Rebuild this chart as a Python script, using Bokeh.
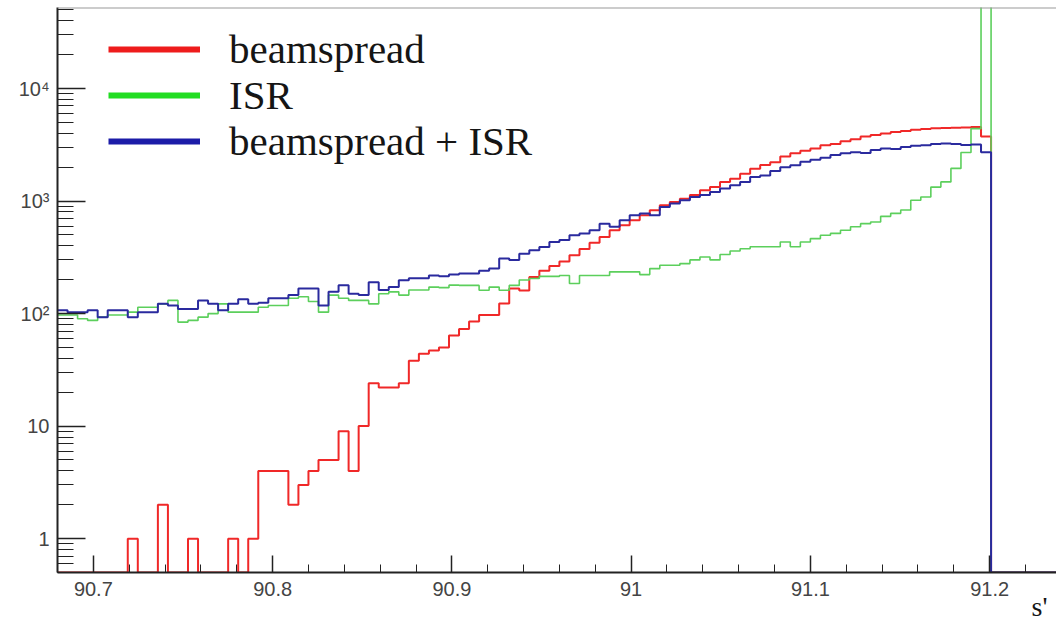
import numpy as np
from bokeh.plotting import figure
from bokeh.models import (Range1d, LogTicker, SingleIntervalTicker, NumeralTickFormatter,
                          Legend, LegendItem, Span, Title, ColumnDataSource)
from bokeh.embed import file_html
from bokeh.resources import INLINE

# ---- histogram binning (100 bins) ----
bin_low = 90.68
bin_high = 91.24
n_bins = 100

# ---- bin contents ----
beamspread = [0, 0, 0, 0, 0, 0, 0, 1, 0, 0,
              2, 0, 0, 1, 0, 0, 0, 1, 0, 1,
              4, 4, 4, 2, 3, 4, 5, 5, 9, 4,
              10, 24, 22, 22, 24, 38, 44, 47, 50, 64,
              73, 85, 97, 97, 123, 167, 160, 211, 240, 265,
              290, 330, 375, 425, 480, 550, 610, 675, 748, 830,
              920, 982, 1050, 1130, 1250, 1330, 1480, 1580, 1750, 1940,
              2090, 2210, 2490, 2660, 2800, 2930, 3130, 3210, 3400, 3550,
              3750, 3860, 3990, 4110, 4200, 4310, 4380, 4440, 4460, 4480,
              4500, 4560, 3750, 0, 0, 0, 0, 0, 0, 0]

isr = [97, 97, 90, 87, 93, 97, 97, 103, 114, 114,
       122, 131, 84, 87, 93, 100, 122, 103, 103, 103,
       114, 118, 118, 137, 141, 128, 103, 146, 137, 131,
       131, 122, 150, 156, 146, 162, 162, 172, 170, 179,
       178, 178, 161, 172, 161, 178, 199, 205, 214, 214,
       218, 185, 218, 218, 218, 235, 235, 235, 222, 251,
       269, 269, 278, 300, 318, 300, 335, 360, 377, 392,
       392, 392, 433, 392, 433, 464, 497, 516, 550, 591,
       630, 651, 731, 778, 832, 1016, 1087, 1330, 1480, 1950,
       2700, 4400, 200000, 0, 0, 0, 0, 0, 0, 0]

beamspread_isr = [107, 103, 103, 107, 93, 107, 107, 93, 103, 103,
                  122, 118, 110, 110, 131, 122, 107, 122, 134, 122,
                  125, 137, 137, 146, 167, 167, 118, 156, 179, 150,
                  146, 190, 162, 172, 198, 206, 206, 218, 215, 222,
                  227, 227, 240, 251, 308, 300, 341, 365, 391, 433,
                  450, 497, 515, 550, 630, 590, 675, 748, 775, 748,
                  886, 950, 1016, 1087, 1130, 1205, 1290, 1381, 1480, 1640,
                  1690, 1850, 2000, 2080, 2230, 2330, 2420, 2560, 2660, 2720,
                  2680, 2850, 2930, 2900, 3020, 3100, 3130, 3210, 3250, 3210,
                  3150, 3180, 2720, 0, 0, 0, 0, 0, 0, 0]

series_names = ["beamspread", "ISR", "beamspread + ISR"]
series_colors = ["#f02828", "#5ccf5c", "#2a2a9e"]
legend_colors = ["#ee1c1c", "#22dd22", "#1c1ca8"]
series_widths = [2, 1.6, 2]

y_ticks_labels = {1: "1", 10: "10", 100: "10\u00b2", 1000: "10\u00b3", 10000: "10\u2074"}
x_title = "s'"

# ---- axes ranges ----
x_min, x_max = 90.68, 91.2373
y_min, y_max = 0.5, 52500

edges = np.linspace(bin_low, bin_high, n_bins + 1)


def step_source(vals):
    v = np.asarray(vals, dtype=float)
    v = np.where(v > 0, v, y_min)  # empty bins are drawn on the frame floor (log scale)
    return ColumnDataSource(dict(x=edges, y=np.append(v, v[-1])))


p = figure(width=1056, height=623,
           x_range=Range1d(x_min, x_max), y_range=Range1d(y_min, y_max),
           y_axis_type="log", output_backend="svg", toolbar_location=None,
           min_border_left=57, min_border_right=0, min_border_top=7, min_border_bottom=51)
p.grid.visible = False
p.outline_line_color = None
p.background_fill_color = "white"
p.border_fill_color = "white"

for vals, col, lw in zip([beamspread, isr, beamspread_isr], series_colors, series_widths):
    p.step(x="x", y="y", source=step_source(vals), mode="after", line_color=col, line_width=lw)

# top frame line
p.add_layout(Span(location=y_max, dimension="width", line_color="#9a9a9a", line_width=2))

# ---- x axis ----
xa = p.xaxis[0]
xa.ticker = SingleIntervalTicker(interval=0.1, num_minor_ticks=5)
xa.formatter = NumeralTickFormatter(format="0.[0]")
xa.major_tick_in = 17
xa.major_tick_out = 0
xa.minor_tick_in = 8
xa.minor_tick_out = 0
xa.axis_line_width = 2
xa.axis_line_color = "#222222"
xa.major_tick_line_color = "#222222"
xa.minor_tick_line_color = "#222222"
xa.major_tick_line_width = 1.5
xa.major_label_text_font = "Liberation Sans"
xa.major_label_text_font_size = "20px"
xa.major_label_text_color = "#444444"
xa.major_label_standoff = 9

# x-axis title at the bottom right, below the tick labels
p.add_layout(Title(text=x_title, align="right", offset=9, standoff=-19, vertical_align="bottom",
                   text_font="Liberation Serif", text_font_size="28px",
                   text_font_style="normal", text_color="#151515"), "below")

# ---- y axis ----
ya = p.yaxis[0]
ya.ticker = LogTicker(num_minor_ticks=10)
ya.major_label_overrides = y_ticks_labels
ya.major_tick_in = 28
ya.major_tick_out = 0
ya.minor_tick_in = 16
ya.minor_tick_out = 0
ya.axis_line_width = 2
ya.axis_line_color = "#222222"
ya.major_tick_line_color = "#222222"
ya.minor_tick_line_color = "#222222"
ya.major_tick_line_width = 1.5
ya.major_label_text_font = "Liberation Sans"
ya.major_label_text_font_size = "20px"
ya.major_label_text_color = "#444444"
ya.major_label_standoff = 8

# ---- legend (thick sample lines), one entry per box for exact row pitch ----
legend_rows_y = [499, 453, 407]
for name, col, ly in zip(series_names, legend_colors, legend_rows_y):
    dummy = p.line(x=[np.nan], y=[np.nan], line_color=col, line_width=6)
    lg = Legend(items=[LegendItem(label=name, renderers=[dummy])],
                location=(51, ly), orientation="vertical",
                glyph_width=92, glyph_height=44, label_height=44, label_standoff=29,
                spacing=0, padding=0, margin=0,
                border_line_color=None, background_fill_alpha=0,
                label_text_font="Liberation Serif", label_text_font_size="41px",
                label_text_color="#151515")
    p.add_layout(lg)

open("out.html", "w").write(file_html(p, INLINE))
